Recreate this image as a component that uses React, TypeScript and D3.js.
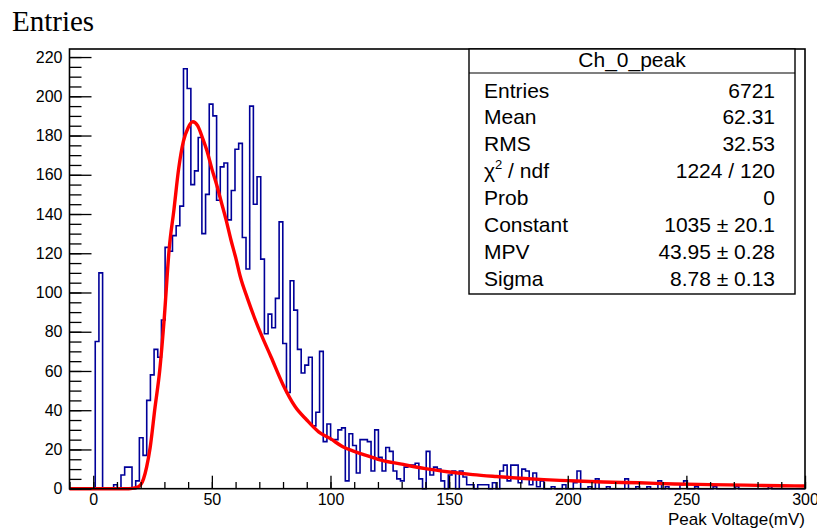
import React, { useEffect, useRef } from "react";
import * as d3 from "d3";

// histogram Ch_0_peak : 200 bins from -10 to 300 mV
const X_MIN = -10;
const X_MAX = 300;
const binCounts = [
  0, 0, 0, 0, 0, 0, 0, 75, 110, 0,
  0, 0, 2, 0, 7, 11, 11, 0, 4, 26,
  17, 45, 58, 71, 67, 86, 123, 121, 129, 134,
  144, 214, 204, 155, 162, 179, 130, 150, 196, 190,
  147, 164, 166, 137, 152, 173, 176, 128, 112, 195,
  145, 159, 117, 79, 89, 82, 97, 136, 74, 49,
  106, 91, 71, 59, 63, 67, 32, 39, 70, 24,
  33, 25, 25, 30, 31, 4, 28, 22, 8, 25,
  25, 24, 9, 30, 16, 9, 21, 19, 9, 5,
  4, 11, 12, 12, 13, 5, 0, 19, 7, 11,
  10, 4, 0, 7, 9, 0, 9, 6, 2, 2,
  0, 2, 2, 2, 0, 3, 0, 9, 12, 4,
  12, 12, 3, 10, 9, 2, 8, 1, 4, 0,
  0, 1, 0, 0, 2, 0, 0, 3, 9, 0,
  0, 1, 0, 5, 0, 0, 1, 0, 0, 0,
  0, 5, 0, 0, 1, 0, 0, 1, 0, 0,
  4, 0, 1, 0, 0, 0, 2, 4, 0, 0,
  1, 0, 0, 0, 0, 1, 0, 0, 0, 0,
  0, 1, 0, 0, 0, 0, 0, 0, 0, 0,
  1, 0, 0, 0, 0, 0, 0, 0, 0, 0,
];

// landau fit
const fitX = [
  -10, 0, 10, 15, 18, 20, 21.2, 22.5, 24, 26, 28, 30, 32, 34, 36, 38, 40, 42,
  44, 46, 48, 50, 52, 54, 56, 58, 60, 62, 65, 68, 71, 75, 80, 85, 90, 95, 100,
  105, 110, 115, 120, 130, 140, 150, 160, 170, 180, 190, 200, 215, 230, 245,
  260, 275, 290, 300,
];
const fitY = [
  0, 0, 0, 0, 0.5, 2, 5, 11, 21, 41, 60, 88, 122, 142, 163, 177, 184, 187,
  185, 179, 172, 163, 155, 146, 137, 127, 118, 108, 97, 87, 78, 67, 53, 42, 35,
  29, 25.5, 21.5, 19, 17, 15, 12.5, 10.2, 8.5, 7.2, 6.2, 5.3, 4.6, 4.1, 3.4,
  3.0, 2.4, 2.1, 1.8, 1.5, 1.4,
];

const xMajor = [0, 50, 100, 150, 200, 250, 300];
const yMajor = [0, 20, 40, 60, 80, 100, 120, 140, 160, 180, 200, 220];

const statsTitle = "Ch_0_peak";
const statsLabels = ["Entries", "Mean", "RMS", "chi2", "Prob", "Constant", "MPV", "Sigma"];
const statsValues = ["6721", "62.31", "32.53", "1224 / 120", "0", "1035 \u00b1 20.1", "43.95 \u00b1 0.28", "8.78 \u00b1 0.13"];

const W = 817;
const H = 528;
const frame = { left: 69.5, right: 805, top: 49, bottom: 488.7 };
const SANS = "'Liberation Sans', Arial, Helvetica, sans-serif";

export default function App() {
  const ref = useRef<SVGSVGElement>(null);

  useEffect(() => {
    const svg = d3.select(ref.current);
    svg.selectAll("*").remove();

    const x = d3.scaleLinear().domain([X_MIN, X_MAX]).range([frame.left, frame.right]);
    const y = d3.scaleLinear().domain([0, 224.1]).range([frame.bottom, frame.top]);

    svg.append("rect").attr("width", W).attr("height", H).attr("fill", "white");

    // histogram outline
    const n = binCounts.length;
    const edges = d3.range(n + 1).map((i) => X_MIN + (i * (X_MAX - X_MIN)) / n);
    const pts: [number, number][] = binCounts.map((c, i) => [edges[i], c]);
    pts.push([edges[n], binCounts[n - 1]]);
    const histLine = d3
      .line<[number, number]>()
      .x((d) => x(d[0]))
      .y((d) => y(d[1]))
      .curve(d3.curveStepAfter);
    svg
      .append("path")
      .attr("d", histLine(pts))
      .attr("fill", "none")
      .attr("stroke", "#000099")
      .attr("stroke-width", 1.6);

    // fit
    const fitLine = d3
      .line<number>()
      .x((d, i) => x(fitX[i]))
      .y((d) => y(d))
      .curve(d3.curveMonotoneX);
    svg
      .append("path")
      .attr("d", fitLine(fitY))
      .attr("fill", "none")
      .attr("stroke", "#ff0000")
      .attr("stroke-width", 3.4);

    // axes, ROOT style ticks pointing inwards
    const xAxisMinor = d3
      .axisBottom(x)
      .tickValues(d3.range(-10, 301, 10))
      .tickSize(-6.7)
      .tickFormat(() => "");
    const xAxisMajor = d3
      .axisBottom(x)
      .tickValues(xMajor)
      .tickSize(-13)
      .tickPadding(5)
      .tickFormat(d3.format("d"));
    const yAxisMinor = d3
      .axisLeft(y)
      .tickValues(d3.range(0, 224, 5))
      .tickSize(-12)
      .tickFormat(() => "");
    const yAxisMajor = d3
      .axisLeft(y)
      .tickValues(yMajor)
      .tickSize(-22)
      .tickPadding(7)
      .tickFormat(d3.format("d"));

    const gx = svg.append("g").attr("transform", `translate(0,${frame.bottom})`);
    gx.append("g").call(xAxisMinor);
    gx.append("g").call(xAxisMajor);
    const gy = svg.append("g").attr("transform", `translate(${frame.left},0)`);
    gy.append("g").call(yAxisMinor);
    gy.append("g").call(yAxisMajor);
    svg.selectAll(".domain").remove();
    svg.selectAll(".tick line").attr("stroke", "#000").attr("stroke-width", 1.3);
    svg
      .selectAll(".tick text")
      .attr("fill", "#000")
      .style("font-family", SANS)
      .style("font-size", "16px");

    // frame
    svg
      .append("rect")
      .attr("x", frame.left)
      .attr("y", frame.top)
      .attr("width", frame.right - frame.left)
      .attr("height", frame.bottom - frame.top)
      .attr("fill", "none")
      .attr("stroke", "#000")
      .attr("stroke-width", 1.6);

    // axis titles
    svg
      .append("text")
      .attr("x", frame.right)
      .attr("y", 525)
      .attr("text-anchor", "end")
      .style("font-family", SANS)
      .style("font-size", "17px")
      .text("Peak Voltage(mV)");
    svg
      .append("text")
      .attr("x", 12)
      .attr("y", 31)
      .style("font-family", "'Liberation Serif', 'Times New Roman', serif")
      .style("font-size", "29px")
      .text("Entries");

    // stats box
    const box = { x0: 469, x1: 795, y0: 49, y1: 294, title: 73 };
    const g = svg.append("g").style("font-family", SANS).style("font-size", "21px");
    g.append("rect")
      .attr("x", box.x0)
      .attr("y", box.y0)
      .attr("width", box.x1 - box.x0)
      .attr("height", box.y1 - box.y0)
      .attr("fill", "white")
      .attr("stroke", "#000")
      .attr("stroke-width", 1.4);
    g.append("line")
      .attr("x1", box.x0)
      .attr("x2", box.x1)
      .attr("y1", box.title)
      .attr("y2", box.title)
      .attr("stroke", "#000")
      .attr("stroke-width", 1.2);
    g.append("text")
      .attr("x", (box.x0 + box.x1) / 2)
      .attr("y", 67)
      .attr("text-anchor", "middle")
      .text(statsTitle);
    statsLabels.forEach((lab, i) => {
      const yy = 97.5 + i * 26.9;
      const t = g.append("text").attr("x", 484).attr("y", yy);
      if (lab === "chi2") {
        t.append("tspan").text("\u03c7");
        t.append("tspan").attr("dy", -9).style("font-size", "13px").text("2");
        t.append("tspan").attr("dy", 9).text(" / ndf");
      } else {
        t.text(lab);
      }
      g.append("text")
        .attr("x", 775)
        .attr("y", yy)
        .attr("text-anchor", "end")
        .text(statsValues[i]);
    });
  }, []);

  return (
    <svg
      ref={ref}
      width={W}
      height={H}
      style={{ position: "absolute", left: 0, top: 0 }}
    />
  );
}
